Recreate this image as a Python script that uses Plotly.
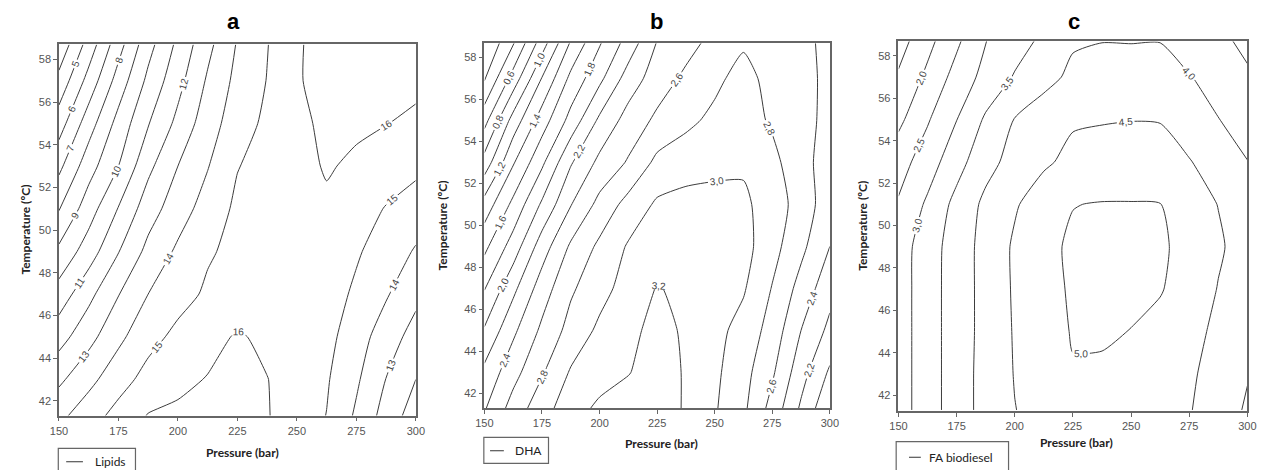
import plotly.graph_objects as go

W, H = 1263, 470

# ---------------- data ----------------
pressure = [150, 162.5, 175, 187.5, 200, 212.5, 225, 237.5, 250, 262.5, 275, 287.5, 300]

temp_a = [41.3, 43, 45, 47, 49, 51, 53, 55, 57, 58.7]
lipids = [
    [13.75, 14.55, 15.35, 16.05, 16.2, 16.3, 16.3, 16.05, 15.55, 14.98, 13.85, 12.6, 11.5],
    [12.8, 13.72, 14.59, 15.35, 15.75, 16.05, 16.25, 16.02, 15.6, 15.1, 14.15, 12.98, 12.0],
    [11.6, 12.67, 13.77, 14.66, 15.25, 15.65, 16.1, 15.8, 15.6, 15.3, 14.45, 13.5, 12.61],
    [10.43, 11.72, 12.96, 14.0, 14.64, 15.15, 15.4, 15.6, 15.6, 15.4, 14.85, 14.1, 13.26],
    [9.22, 10.5, 11.96, 13.28, 14.17, 14.89, 15.25, 15.5, 15.6, 15.55, 15.1, 14.6, 13.9],
    [7.94, 9.54, 11.05, 12.54, 13.55, 14.41, 15.2, 15.5, 15.7, 15.85, 15.5, 14.94, 14.57],
    [6.75, 8.58, 10.0, 11.75, 13.0, 13.95, 14.96, 15.35, 15.7, 16.08, 15.85, 15.6, 15.22],
    [5.53, 7.54, 9.35, 10.94, 12.26, 13.56, 14.52, 15.22, 15.77, 16.2, 16.15, 16.02, 15.84],
    [4.3, 6.36, 8.42, 10.24, 11.67, 13.13, 14.28, 15.03, 15.9, 16.38, 16.35, 16.3, 16.19],
    [3.26, 5.41, 7.6, 9.64, 11.23, 12.72, 14.08, 14.96, 15.88, 16.4, 16.45, 16.45, 16.4],
]

temp_b = [41.3, 43, 45, 47, 49, 51, 53, 55, 57, 58.7]
dha = [
    [2.38, 2.68, 2.92, 3.11, 3.24, 3.3, 3.3, 3.18, 3.02, 2.84, 2.53, 2.17, 1.83],
    [2.25, 2.53, 2.78, 3.02, 3.11, 3.19, 3.3, 3.18, 3.04, 2.87, 2.63, 2.28, 1.97],
    [2.02, 2.36, 2.64, 2.87, 3.04, 3.14, 3.27, 3.17, 3.06, 2.93, 2.72, 2.4, 2.15],
    [1.79, 2.15, 2.5, 2.77, 2.93, 3.08, 3.21, 3.16, 3.1, 3.02, 2.79, 2.53, 2.27],
    [1.55, 1.89, 2.3, 2.63, 2.84, 3.02, 3.12, 3.15, 3.14, 3.07, 2.87, 2.65, 2.4],
    [1.28, 1.65, 2.03, 2.39, 2.66, 2.87, 3.03, 3.06, 3.06, 3.04, 2.9, 2.72, 2.48],
    [0.88, 1.38, 1.76, 2.18, 2.45, 2.62, 2.85, 2.92, 2.95, 2.97, 2.86, 2.66, 2.52],
    [0.53, 1.08, 1.5, 1.87, 2.24, 2.48, 2.64, 2.75, 2.85, 2.9, 2.77, 2.66, 2.55],
    [0.18, 0.68, 1.21, 1.65, 1.95, 2.29, 2.5, 2.64, 2.75, 2.88, 2.72, 2.64, 2.57],
    [0.0, 0.38, 0.9, 1.42, 1.78, 2.08, 2.41, 2.53, 2.66, 2.77, 2.72, 2.64, 2.56],
]

temp_c = [41.3, 43, 45, 47, 49, 51, 53, 55, 57, 58.7]
fa_biodiesel = [
    [2.78, 3.26, 3.76, 4.17, 4.49, 4.65, 4.75, 4.78, 4.75, 4.68, 4.53, 4.25, 3.94],
    [2.78, 3.26, 3.76, 4.17, 4.52, 4.75, 4.97, 4.93, 4.85, 4.75, 4.58, 4.3, 4.03],
    [2.78, 3.26, 3.76, 4.15, 4.54, 4.8, 5.03, 5.06, 4.99, 4.87, 4.68, 4.38, 4.12],
    [2.78, 3.26, 3.76, 4.15, 4.56, 4.84, 5.06, 5.1, 5.1, 5.03, 4.8, 4.48, 4.2],
    [2.78, 3.24, 3.76, 4.15, 4.57, 4.9, 5.06, 5.1, 5.1, 5.06, 4.87, 4.56, 4.3],
    [2.55, 3.08, 3.65, 4.11, 4.45, 4.75, 4.99, 5.02, 5.02, 5.01, 4.7, 4.49, 4.35],
    [2.29, 2.76, 3.31, 3.84, 4.17, 4.43, 4.62, 4.7, 4.72, 4.7, 4.53, 4.25, 4.01],
    [1.88, 2.45, 2.99, 3.57, 4.02, 4.25, 4.45, 4.47, 4.49, 4.48, 4.22, 4.01, 3.8],
    [1.56, 2.11, 2.68, 3.16, 3.54, 3.85, 4.1, 4.2, 4.25, 4.2, 4.02, 3.85, 3.56],
    [1.29, 1.85, 2.41, 2.99, 3.3, 3.6, 3.95, 3.99, 3.98, 3.99, 3.8, 3.6, 3.4],
]

x_ticks = [150, 175, 200, 225, 250, 275, 300]
y_ticks = [42, 44, 46, 48, 50, 52, 54, 56, 58]
panel_titles = ["a", "b", "c"]
series_names = ["Lipids", "DHA", "FA biodiesel"]
level_start = [4, 0.2, 1.5]
level_end = [16, 3.2, 5.0]
level_step = [1, 0.2, 0.5]
label_fmt = [".0f", ".1f", ".1f"]

# ---------------- layout geometry (pixels) ----------------
plot_px = [  # x0, x1, ytop, ybottom
    (50.7, 412.7, 44.0, 415.7),
    (482.3, 832.7, 43.3, 408.3),
    (902.3, 1256.3, 41.3, 411.0),
]
y_ranges = [(41.3, 58.72), (41.29, 58.67), (41.25, 58.69)]
title_pos = [(228, 22), (657, 22), (1080, 21)]
xtitle_pos = [(237, 452), (662, 443), (1083, 442)]
ytitle_x = [17, 440, 865]
legend_box = [(50, 128.3, 448.3, 474), (481.7, 547.3, 437.3, 463.3), (900, 1014, 441.7, 474)]
legend_line = [(58, 75, 461.7), (488, 502, 450.7), (913, 925, 457.3)]
legend_text_x = [85, 511.7, 931.7]


def fx(px):
    return px / W


def fy(py):
    return 1 - py / H


zs = [lipids, dha, fa_biodiesel]
ts = [temp_a, temp_b, temp_c]

fig = go.Figure()
LINE = "#3c3c3c"
GRAY = "#555555"

for i in range(3):
    xa = "x" if i == 0 else f"x{i+1}"
    ya = "y" if i == 0 else f"y{i+1}"
    fig.add_trace(go.Contour(
        x=pressure, y=ts[i], z=zs[i],
        contours=dict(coloring="none", start=level_start[i],
                      end=level_end[i] + level_step[i] * 0.01, size=level_step[i],
                      showlabels=True, labelformat=label_fmt[i],
                      labelfont=dict(size=10, color="#444444", family="Liberation Sans")),
        line=dict(color=LINE, width=1, smoothing=0.6),
        showscale=False, hoverinfo="skip", xaxis=xa, yaxis=ya,
    ))
    x0, x1, yt, yb = plot_px[i]
    axis_common = dict(showgrid=False, zeroline=False, showline=True, mirror=True,
                       linecolor="#666666", linewidth=1.5, ticks="outside", ticklen=4,
                       tickcolor="#666666", tickfont=dict(size=11, color=GRAY, family="Liberation Sans"))
    xk = "xaxis" if i == 0 else f"xaxis{i+1}"
    yk = "yaxis" if i == 0 else f"yaxis{i+1}"
    fig.layout[xk] = dict(domain=[fx(x0), fx(x1)], range=[150, 300], tickvals=x_ticks,
                          anchor=ya, **axis_common)
    fig.layout[yk] = dict(domain=[fy(yb), fy(yt)], range=list(y_ranges[i]), tickvals=y_ticks,
                          anchor=xa, **axis_common)

annotations = []
shapes = []
for i in range(3):
    tx, ty = title_pos[i]
    annotations.append(dict(text=f"<b>{panel_titles[i]}</b>", x=fx(tx), y=fy(ty), xref="paper", yref="paper",
                            showarrow=False, font=dict(size=22, color="black", family="Liberation Sans"),
                            xanchor="center", yanchor="middle"))
    px_, py_ = xtitle_pos[i]
    annotations.append(dict(text="<b>Pressure (bar)</b>", x=fx(px_), y=fy(py_), xref="paper", yref="paper",
                            showarrow=False, font=dict(size=12, color="#222222", family="Lato"),
                            xanchor="center", yanchor="middle"))
    x0, x1, yt, yb = plot_px[i]
    annotations.append(dict(text="<b>Temperature (ºC)</b>", x=fx(ytitle_x[i]), y=fy((yt + yb) / 2),
                            xref="paper", yref="paper", showarrow=False, textangle=-90,
                            font=dict(size=12, color="#222222", family="Lato"),
                            xanchor="center", yanchor="middle"))
    bx0, bx1, by0, by1 = legend_box[i]
    shapes.append(dict(type="rect", xref="paper", yref="paper", x0=fx(bx0), x1=fx(bx1),
                       y0=fy(by1), y1=fy(by0), line=dict(color="#666666", width=1.2)))
    lx0, lx1, ly = legend_line[i]
    shapes.append(dict(type="line", xref="paper", yref="paper", x0=fx(lx0), x1=fx(lx1),
                       y0=fy(ly), y1=fy(ly), line=dict(color="#555555", width=1.2)))
    annotations.append(dict(text=series_names[i], x=fx(legend_text_x[i]), y=fy(ly), xref="paper", yref="paper",
                            showarrow=False, font=dict(size=12, color="#222222", family="Lato"),
                            xanchor="left", yanchor="middle"))

fig.update_layout(width=W, height=H, margin=dict(l=0, r=0, t=0, b=0),
                  paper_bgcolor="white", plot_bgcolor="white", separators=",.",
                  showlegend=False, annotations=annotations, shapes=shapes)

fig.write_html("out.html", config={"displayModeBar": False},
               post_script="document.body.style.margin='0px';document.body.style.overflow='hidden';")
